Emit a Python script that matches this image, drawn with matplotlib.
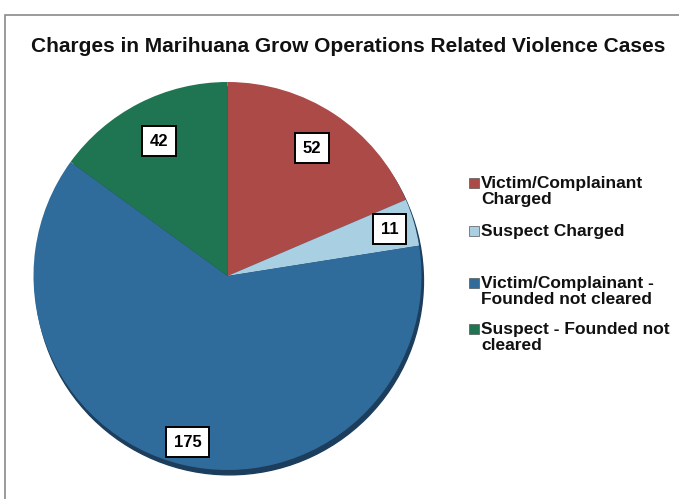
import numpy as np
import matplotlib as mpl
import matplotlib.pyplot as plt
from matplotlib.patches import Rectangle, Circle

mpl.rcParams['font.family'] = ['Liberation Sans', 'DejaVu Sans']

categories = ['Victim/Complainant\nCharged', 'Suspect Charged',
              'Victim/Complainant -\nFounded not cleared', 'Suspect - Founded not\ncleared']
counts = [52, 11, 175, 42]
colors = ['#ac4a48', '#a9cfe3', '#2f6c9c', '#1f7552']

fig = plt.figure(figsize=(6.79, 4.99), dpi=100)

# frame around the chart
fig.patches.append(Rectangle((5 / 679, -0.01), 0.995, 0.995 - 8 / 499, transform=fig.transFigure,
                             fill=False, edgecolor='#8a8a8a', linewidth=1.2))

fig.text(0.513, 0.906, 'Charges in Marihuana Grow Operations Related Violence Cases',
         ha='center', va='center', fontsize=15, fontweight='bold', color='#111111')

ax = fig.add_axes([33.5 / 679, 29 / 499, 388 / 679, 388 / 499])
ax.add_patch(Circle((0.01, -0.025), 1.0, color='#1c3e5c', zorder=0, clip_on=False))
wedges, _ = ax.pie(counts, colors=colors, startangle=90, counterclock=False,
                   wedgeprops=dict(linewidth=0, clip_on=False))
ax.set_xlim(-1, 1)
ax.set_ylim(-1, 1)
ax.set_aspect('equal')

label_r = [0.79, 0.87, 0.88, 0.78]
for w, n, r in zip(wedges, counts, label_r):
    ang = np.deg2rad((w.theta1 + w.theta2) / 2)
    ax.text(r * np.cos(ang), r * np.sin(ang), str(n), ha='center', va='center',
            fontsize=12, fontweight='bold',
            bbox=dict(boxstyle='square,pad=0.45', facecolor='white', edgecolor='black', linewidth=1.4))

# legend
leg_y = [176, 224, 276, 322]
for lab, c, y in zip(categories, colors, leg_y):
    fig.patches.append(Rectangle((469 / 679, 1 - (y + 12) / 499), 10 / 679, 10 / 499,
                                 transform=fig.transFigure, facecolor=c, edgecolor='#555555', linewidth=0.5))
    fig.text(481 / 679, 1 - y / 499, lab, ha='left', va='top', fontsize=12.5,
             fontweight='bold', color='#111111', linespacing=1.1)

plt.savefig('out.png')
